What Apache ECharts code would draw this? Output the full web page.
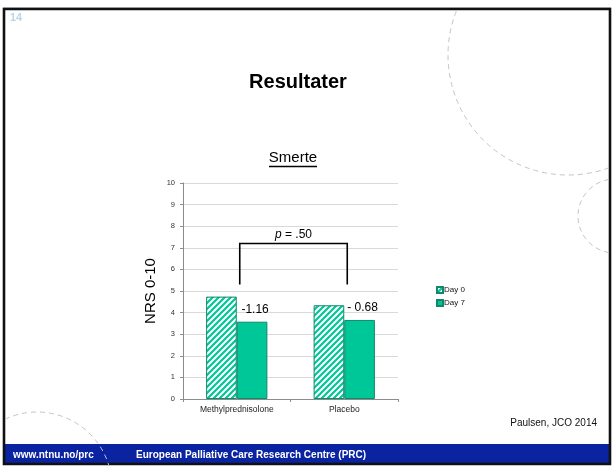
<!DOCTYPE html>
<html>
<head>
<meta charset="utf-8">
<script src="https://cdn.jsdelivr.net/npm/echarts@6/dist/echarts.min.js"></script>
<style>
  html, body { margin: 0; padding: 0; background: #fff; }
  #chart { width: 612px; height: 473px; }
</style>
</head>
<body>
<div id="chart"></div>
<script>
// Pain score (NRS 0-10) by treatment arm, day 0 vs day 7
const categories = ['Methylprednisolone', 'Placebo'];
const seriesNames = ['Day 0', 'Day 7'];
const day0 = [4.74, 4.34];
const day7 = [3.58, 3.66];
const changeLabels = ['-1.16', '- 0.68'];
// significance bracket: [from category, to category, top level, foot level]
const bracket = [0, 1, 7.2, 5.3];
const pValueLabel = '{i|p} = .50';
const yMin = 0, yMax = 10, yStep = 1;

const FONT = '"Liberation Sans", Arial, sans-serif';
const TEAL = '#00c797';
const TEAL_EDGE = '#12876a';

function hatchPattern() {
  const c = document.createElement('canvas');
  c.width = 6; c.height = 6;
  const g = c.getContext('2d');
  g.fillStyle = '#ffffff';
  g.fillRect(0, 0, 6, 6);
  g.strokeStyle = TEAL;
  g.lineWidth = 2.2;
  g.beginPath();
  g.moveTo(0, 6); g.lineTo(6, 0);
  g.moveTo(-3, 3); g.lineTo(3, -3);
  g.moveTo(3, 9); g.lineTo(9, 3);
  g.stroke();
  return c;
}

const chart = echarts.init(document.getElementById('chart'), null, { renderer: 'canvas' });

const dash = { stroke: '#c4c4c4', lineWidth: 1, lineDash: [5, 4], fill: null };

const option = {
  backgroundColor: '#ffffff',
  animation: false,
  textStyle: { fontFamily: FONT },
  grid: { left: 183, right: 214, top: 183, bottom: 74, containLabel: false },
  legend: {
    orient: 'vertical',
    left: 431,
    top: 281,
    itemWidth: 6,
    itemHeight: 6,
    itemGap: 5,
    icon: 'rect',
    data: seriesNames,
    textStyle: { fontSize: 8, color: '#111', fontFamily: FONT, padding: [0, 0, 0, -4] }
  },
  xAxis: {
    type: 'category',
    data: categories,
    axisLine: { lineStyle: { color: '#8c8c8c', width: 1 } },
    axisTick: { show: true, length: 3, lineStyle: { color: '#8c8c8c' } },
    axisLabel: { fontSize: 8.5, color: '#222', margin: 6, fontFamily: FONT }
  },
  yAxis: {
    type: 'value',
    min: yMin, max: yMax, interval: yStep,
    name: 'NRS 0-10',
    nameLocation: 'middle',
    nameRotate: 90,
    nameGap: 25,
    nameTextStyle: { fontSize: 15, color: '#000', fontFamily: FONT },
    axisLine: { show: true, lineStyle: { color: '#8c8c8c', width: 1 } },
    axisTick: { show: true, length: 3, lineStyle: { color: '#8c8c8c' } },
    axisLabel: { fontSize: 7.5, color: '#333', margin: 8, fontFamily: FONT },
    splitLine: { lineStyle: { color: '#d9d9d9', width: 1 } }
  },
  series: [
    {
      name: seriesNames[0],
      type: 'bar',
      data: day0,
      barGap: '0%',
      barCategoryGap: '43%',
      itemStyle: { color: { image: hatchPattern(), repeat: 'repeat' }, borderColor: TEAL_EDGE, borderWidth: 1 }
    },
    {
      name: seriesNames[1],
      type: 'bar',
      data: day7,
      barGap: '0%',
      barCategoryGap: '43%',
      itemStyle: { color: TEAL, borderColor: TEAL_EDGE, borderWidth: 1 },
      label: {
        show: true,
        position: 'top',
        distance: 6,
        offset: [3, 0],
        fontSize: 12,
        color: '#000',
        fontFamily: FONT,
        formatter: p => changeLabels[p.dataIndex]
      }
    },
    {
      type: 'custom',
      name: 'bracket',
      clip: false,
      z: 10,
      encode: { x: [0, 1], y: [2, 3] },
      data: [bracket],
      renderItem: function (params, api) {
        const shift = 3;
        const tl = api.coord([api.value(0), api.value(2)]);
        const tr = api.coord([api.value(1), api.value(2)]);
        const bl = api.coord([api.value(0), api.value(3)]);
        const br = api.coord([api.value(1), api.value(3)]);
        return {
          type: 'group',
          children: [
            {
              type: 'polyline',
              shape: { points: [[bl[0] + shift, bl[1]], [tl[0] + shift, tl[1]], [tr[0] + shift, tr[1]], [br[0] + shift, br[1]]] },
              style: { stroke: '#000', lineWidth: 1.6, fill: null }
            },
            {
              type: 'text',
              x: (tl[0] + tr[0]) / 2 + shift,
              y: tl[1] - 3,
              style: {
                text: pValueLabel,
                fontSize: 12,
                fontFamily: FONT,
                fill: '#000',
                align: 'center',
                verticalAlign: 'bottom',
                rich: { i: { fontStyle: 'italic', fontSize: 12, fontFamily: FONT, fill: '#000' } }
              }
            }
          ]
        };
      }
    }
  ],
  graphic: [
    // slide frame and footer band
    { type: 'rect', shape: { x: 5, y: 444, width: 604, height: 19 }, style: { fill: '#0a23a0' }, z: -1 },
    { type: 'rect', shape: { x: 4, y: 9, width: 606, height: 455 }, style: { fill: null, stroke: '#111', lineWidth: 2.6 }, z: 0 },
    { type: 'line', shape: { x1: 3, y1: 7.5, x2: 611, y2: 7.5 }, style: { stroke: '#9a9a9a', lineWidth: 1 } },
    // decorative dashed arcs
    { type: 'arc', shape: { cx: 568, cy: 55, r: 120, startAngle: 1.222, endAngle: 3.526, clockwise: true }, style: dash },
    { type: 'arc', shape: { cx: 615, cy: 216, r: 37, startAngle: 1.734, endAngle: 4.549, clockwise: true }, style: dash },
    { type: 'arc', shape: { cx: 37, cy: 487, r: 75, startAngle: 4.272, endAngle: 5.985, clockwise: true }, style: dash, z: 2 },
    // slide number
    { type: 'text', x: 10, y: 18, style: { text: '14', fontSize: 11, fontWeight: 'bold', fontFamily: FONT, fill: '#b9d5ea', verticalAlign: 'middle' } },
    // headings
    { type: 'text', x: 298, y: 82, style: { text: 'Resultater', fontSize: 20, fontWeight: 'bold', fontFamily: FONT, fill: '#000', align: 'center', verticalAlign: 'middle' } },
    { type: 'text', x: 293, y: 158, style: { text: 'Smerte', fontSize: 15, fontFamily: FONT, fill: '#000', align: 'center', verticalAlign: 'middle' } },
    { type: 'line', shape: { x1: 269, y1: 166.5, x2: 317, y2: 166.5 }, style: { stroke: '#000', lineWidth: 1.3 } },
    // source and footer
    { type: 'text', x: 597, y: 423, style: { text: 'Paulsen, JCO 2014', fontSize: 10, fontFamily: FONT, fill: '#111', align: 'right', verticalAlign: 'middle' } },
    { type: 'text', x: 13, y: 455, style: { text: 'www.ntnu.no/prc', fontSize: 10, fontWeight: 'bold', fontFamily: FONT, fill: '#fff', verticalAlign: 'middle' }, z: 3 },
    { type: 'text', x: 136, y: 455, style: { text: 'European Palliative Care Research Centre (PRC)', fontSize: 10, fontWeight: 'bold', fontFamily: FONT, fill: '#fff', verticalAlign: 'middle' }, z: 3 }
  ]
};

chart.setOption(option);
</script>
</body>
</html>
